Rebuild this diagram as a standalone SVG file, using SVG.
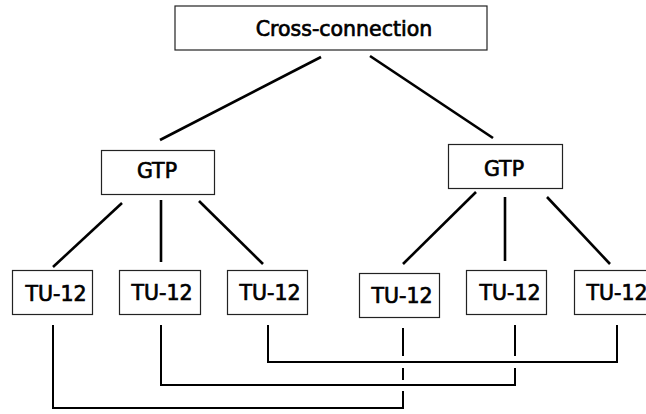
<svg xmlns="http://www.w3.org/2000/svg" width="646" height="414" viewBox="0 0 646 414">
  <style>
    .box { fill: #ffffff; stroke: #222222; stroke-width: 1.2; }
    .lbl { font-family: "DejaVu Sans", "Liberation Sans", sans-serif; font-size: 20.5px; fill: #000000; stroke: #000000; stroke-width: 0.7; text-anchor: middle; }
    .tree { stroke: #000000; stroke-width: 2.6; fill: none; stroke-linecap: butt; }
    .link { stroke: #000000; stroke-width: 2; fill: none; }
  </style>
  <rect width="646" height="414" fill="#ffffff"/>

  <!-- hierarchy and cross links -->
  <g id="connectors">
    <line class="tree" x1="321" y1="57" x2="160" y2="140"/>
    <line class="tree" x1="370" y1="56" x2="493" y2="138"/>

    <line class="tree" x1="122" y1="203" x2="53" y2="267"/>
    <line class="tree" x1="161" y1="200" x2="161" y2="262"/>
    <line class="tree" x1="199" y1="201" x2="263" y2="264"/>

    <line class="tree" x1="476" y1="192" x2="403" y2="264"/>
    <line class="tree" x1="505" y1="197" x2="505" y2="261"/>
    <line class="tree" x1="547" y1="197" x2="610" y2="264"/>

    <!-- TU-12 #3 to TU-12 #6 -->
    <polyline class="link" points="268,325 268,362 617,362 617,325"/>
    <!-- TU-12 #2 to TU-12 #5 (hop over upper link) -->
    <polyline class="link" points="161,325 161,385 515,385 515,368"/>
    <line class="link" x1="515" y1="325" x2="515" y2="356"/>
    <!-- TU-12 #1 to TU-12 #4 (hops over both links) -->
    <polyline class="link" points="53,325 53,408 403,408 403,391"/>
    <line class="link" x1="403" y1="368" x2="403" y2="380"/>
    <line class="link" x1="403" y1="328" x2="403" y2="356"/>
  </g>

  <g id="cross-connection">
    <rect class="box" x="175" y="6" width="312" height="44"/>
    <text class="lbl" x="344" y="36">Cross-connection</text>
  </g>

  <g id="gtp-left">
    <rect class="box" x="101.5" y="150.5" width="113" height="44"/>
    <text class="lbl" x="157" y="178">GTP</text>
  </g>
  <g id="gtp-right">
    <rect class="box" x="448.5" y="144.5" width="114" height="44"/>
    <text class="lbl" x="504" y="176">GTP</text>
  </g>

  <g id="tu12-1">
    <rect class="box" x="12.5" y="270.5" width="80" height="44"/>
    <text class="lbl" x="56" y="301">TU-12</text>
  </g>
  <g id="tu12-2">
    <rect class="box" x="119.5" y="270.5" width="81" height="44"/>
    <text class="lbl" x="162" y="300">TU-12</text>
  </g>
  <g id="tu12-3">
    <rect class="box" x="227.5" y="270.5" width="80" height="44"/>
    <text class="lbl" x="270" y="300">TU-12</text>
  </g>
  <g id="tu12-4">
    <rect class="box" x="359.5" y="273.5" width="80" height="44"/>
    <text class="lbl" x="402" y="303">TU-12</text>
  </g>
  <g id="tu12-5">
    <rect class="box" x="466.5" y="270.5" width="80" height="44"/>
    <text class="lbl" x="510" y="300">TU-12</text>
  </g>
  <g id="tu12-6">
    <rect class="box" x="574.5" y="270.5" width="80" height="44"/>
    <text class="lbl" x="617" y="300">TU-12</text>
  </g>
</svg>
